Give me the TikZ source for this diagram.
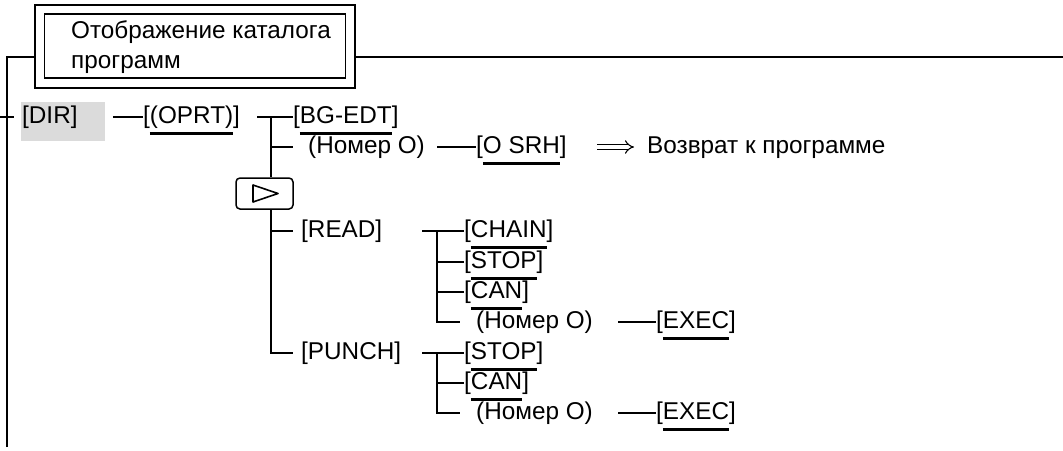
\documentclass[tikz,border=0pt]{standalone}
\usepackage{fontspec}
\setmainfont{Liberation Sans}
\usetikzlibrary{arrows.meta}

% soft key label: bracketed, with a bar under the key name
\newcommand{\skey}[1]{[\setbox0\hbox{#1}\rlap{\rule[-11.5pt]{\wd0}{2.4pt}}\box0]}

\begin{document}
\begin{tikzpicture}[
			x=1pt, y=-1pt,
			every node/.style={font=\fontsize{24.3}{30}\selectfont},
			lbl/.style={anchor=west, inner sep=0pt, text height=17.6pt, text depth=5.2pt},
			frame/.style={draw, inner sep=0pt},
			line/.style={line width=1.3pt},
			playbox/.style={
				draw,
				fill=white,
				line width=1.5pt,
				rounded corners=4pt,
				minimum width=57pt,
				minimum height=31pt,
				inner sep=0pt
			},
			retarrow/.style={double, double distance=3.6pt, line width=1.1pt, -{Implies}}
			]
			\useasboundingbox (0,0) rectangle (1063,450);
			
			% ---- Title ----
			\node[frame, line width=2pt, minimum width=320pt, minimum height=83pt] (titleframe) at (195,46.5) {};
			\node[frame, line width=1.3pt, minimum width=301pt, minimum height=64pt] (titleinner) at (195,46) {};
			\node[anchor=west, inner sep=0pt, align=left] (title) at (71,47)
			{Отображение каталога\\программ};
			
			% ---- Outer frame ----
			\coordinate (topleft) at (7,57);
			\coordinate (botleft) at (7,447);
			\coordinate (topright) at (1063,57);
			\coordinate (tickl) at (0,117);
			\coordinate (tickr) at (14,117);
			\draw[line] (botleft) -- (topleft) -- (topleft -| titleframe.west);
			\draw[line] (titleframe.east |- topleft) -- (topright);
			\draw[line] (tickl) -- (tickr);
			
			% ---- DIR row ----
			\fill[black!14] (21,102) rectangle (105,141);
			\node[lbl] (dir) at (22,117) {[DIR]};
			\node[lbl] (oprt) at (143,117) {\skey{(OPRT)}};
			\node[lbl] (bgedt) at (293,117) {\skey{BG-EDT}};
			\coordinate (j1) at (271,117);
			\draw[line] ([xshift=35pt]dir.east) -- (oprt.west);
			\draw[line] ([xshift=17pt]oprt.east) -- (bgedt.west);
			
			% ---- Program search ----
			\node[lbl] (numo) at (308,147) {(Номер O)};
			\node[lbl] (osrh) at (476,147) {\skey{O SRH}};
			\node[lbl] (ret) at (647,147) {Возврат к программе};
			\draw[line] (j1 |- numo.west) -- ([xshift=-15pt]numo.west);
			\draw[line] ([xshift=-39pt]osrh.west) -- (osrh.west);
			\draw[retarrow] ([xshift=-50pt]ret.west) -- ([xshift=-13pt]ret.west);
			
			% ---- Next key ----
			\node[playbox] (play) at (264.5,193.5) {};
			\draw[line width=1.6pt, line join=round]
			([shift={(-11.5pt,8.5pt)}]play.center) -- ([shift={(13.5pt,0pt)}]play.center)
			-- ([shift={(-11.5pt,-8.5pt)}]play.center) -- cycle;
			
			% ---- READ ----
			\node[lbl] (read) at (301,231) {[READ]};
			\node[lbl] (chain) at (464,231) {\skey{CHAIN}};
			\node[lbl] (stopr) at (464,262) {\skey{STOP}};
			\node[lbl] (canr) at (464,292) {\skey{CAN}};
			\node[lbl] (numr) at (476,322) {(Номер O)};
			\node[lbl] (execr) at (656,322) {\skey{EXEC}};
			\coordinate (j2) at (437,231);
			
			% ---- PUNCH ----
			\node[lbl] (punch) at (301,353) {[PUNCH]};
			\node[lbl] (stopp) at (464,353) {\skey{STOP}};
			\node[lbl] (canp) at (464,383) {\skey{CAN}};
			\node[lbl] (nump) at (476,413) {(Номер O)};
			\node[lbl] (execp) at (656,413) {\skey{EXEC}};
			\coordinate (j3) at (437,353);
			
			% ---- Main trunk ----
			\draw[line] (j1) -- (j1 |- play.north);
			\draw[line] (j1 |- play.south) |- ([xshift=-8pt]punch.west);
			\draw[line] (j1 |- read.west) -- ([xshift=-8pt]read.west);
			
			% ---- READ branches ----
			\draw[line] ([xshift=-42pt]chain.west) -- (chain.west);
			\draw[line] (j2) |- ([xshift=-16pt]numr.west);
			\draw[line] (j2 |- stopr.west) -- (stopr.west);
			\draw[line] (j2 |- canr.west) -- (canr.west);
			\draw[line] ([xshift=-38pt]execr.west) -- (execr.west);
			
			% ---- PUNCH branches ----
			\draw[line] ([xshift=-42pt]stopp.west) -- (stopp.west);
			\draw[line] (j3) |- ([xshift=-16pt]nump.west);
			\draw[line] (j3 |- canp.west) -- (canp.west);
			\draw[line] ([xshift=-38pt]execp.west) -- (execp.west);
			
		\end{tikzpicture}
\end{document}
